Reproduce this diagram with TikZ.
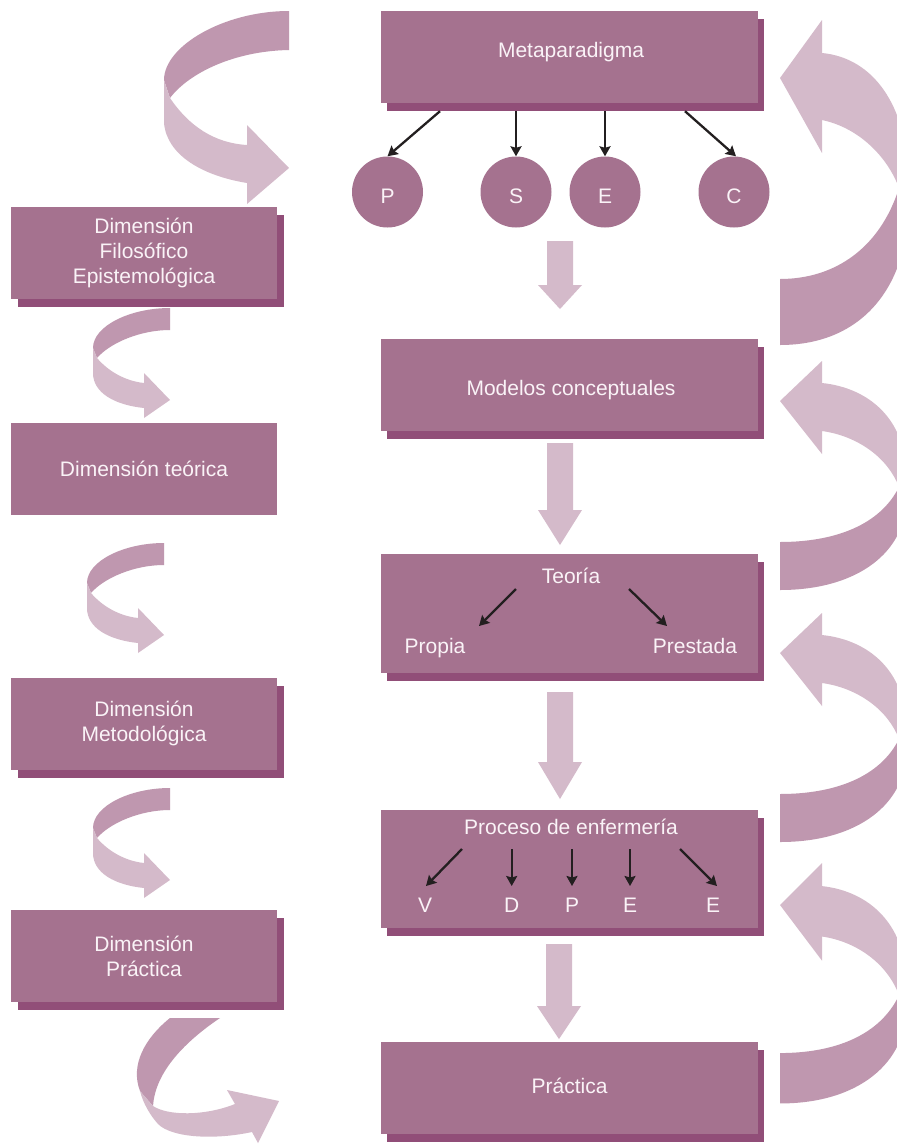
\documentclass[tikz,border=0pt]{standalone}
\usepackage{fontspec}
\setmainfont{Liberation Sans}
\usetikzlibrary{shadows,calc,arrows.meta}
\definecolor{boxcol}{HTML}{A5728F}
\definecolor{shadowcol}{HTML}{914E78}
\definecolor{literib}{HTML}{D4BACA}
\definecolor{darkrib}{HTML}{BF97AF}
\definecolor{txtcol}{HTML}{FAF3F7}
\definecolor{blkcol}{HTML}{231F20}
\newcommand\fatdown[4]{\fill[literib] ({#1-13},#2) -- ({#1+13},#2) -- ({#1+13},#3) -- ({#1+22},#3) -- (#1,#4) -- ({#1-22},#3) -- ({#1-13},#3) -- cycle;}
\newcommand\rightribA{%
  \fill[literib] (42,-58) -- (0,0) -- (42,75) -- (42,42) .. controls (80,50) and (108,80) .. (119,110) -- (128,128) -- (128,95) .. controls (126,30) and (95,-20) .. (42,-25) -- cycle;
  \fill[darkrib] (119,110) .. controls (100,170) and (55,201) .. (0,201) -- (0,267) .. controls (85,267) and (128,205) .. (128,128) -- cycle;}
\newcommand\rightribB{%
  \fill[literib] (42,-40) -- (0,0) -- (42,53) -- (42,30) .. controls (78,35) and (108,57) .. (119,86) -- (126,99) -- (126,69) .. controls (124,19) and (90,-13) .. (42,-18) -- cycle;
  \fill[darkrib] (119,86) .. controls (100,124) and (55,141) .. (0,141) -- (0,189) .. controls (80,189) and (126,149) .. (126,99) -- cycle;}
\newcommand\leftribB{%
  \fill[darkrib] (0,0) .. controls (-40,0) and (-77,18) .. (-77,40) -- (-73,50) .. controls (-60,35) and (-30,22) .. (0,22) -- cycle;
  \fill[literib] (-73,50) .. controls (-62,63) and (-45,73) .. (-26,75) -- (-26,65) -- (0,92) -- (-26,110) -- (-26,100) .. controls (-55,97) and (-77,85) .. (-77,65) -- (-77,40) -- cycle;}
\begin{document}
\begin{tikzpicture}[x=1pt,y=-1pt,
  txt/.style={text=txtcol, inner sep=0pt, font=\fontsize{21}{25}\selectfont},
  box/.style={txt, rectangle, fill=boxcol, align=center},
  cbox/.style={box, minimum width=377pt, minimum height=92pt,
    drop shadow={shadow xshift=6pt, shadow yshift=-8pt, fill=shadowcol, opacity=1}},
  lbox/.style={box, minimum width=266pt, minimum height=92pt},
  lshbox/.style={lbox, drop shadow={shadow xshift=7pt, shadow yshift=-8pt, fill=shadowcol, opacity=1}},
  circ/.style={txt, circle, fill=boxcol, minimum size=71pt, text height=22pt, text depth=0pt},
  lbl/.style={txt, anchor=base},
  blk/.style={draw=blkcol, line width=2.3pt, -{Stealth[length=10pt,width=11pt,inset=1.5pt]}}
]
\clip (0,0) rectangle (897,1144);
\fill[white] (0,0) rectangle (897,1144);

% left curved arrows
\begin{scope}[shift={(289,11)}]
  \fill[darkrib] (0,0) .. controls (-65,0) and (-125,35) .. (-125,69) -- (-119,87) .. controls (-100,62) and (-55,40) .. (0,39) -- cycle;
  \fill[literib] (-119,87) .. controls (-100,115) and (-75,132) .. (-42,134) -- (-42,114) -- (0,157) -- (-42,193) -- (-42,172) .. controls (-85,165) and (-122,145) .. (-125,112) -- (-125,69) -- cycle;
\end{scope}
\begin{scope}[shift={(170,308)}]\leftribB\end{scope}
\begin{scope}[shift={(164,543)}]\leftribB\end{scope}
\begin{scope}[shift={(170,788)}]\leftribB\end{scope}
\fill[darkrib] (170,1018) -- (220,1018) .. controls (180,1045) and (155,1075) .. (153,1106) -- (140,1091) .. controls (130,1065) and (145,1038) .. (170,1018) -- cycle;
\fill[literib] (140,1091) -- (153,1106) .. controls (168,1116) and (205,1116) .. (235,1104) -- (227,1090) -- (279,1101) -- (258,1143) -- (252,1132) .. controls (215,1140) and (172,1138) .. (158,1124) .. controls (150,1115) and (143,1103) .. (140,1091) -- cycle;

% right curved arrows
\begin{scope}[shift={(780,78)}]\rightribA\end{scope}
\begin{scope}[shift={(780,401)}]\rightribB\end{scope}
\begin{scope}[shift={(780,653)}]\rightribB\end{scope}
\begin{scope}[shift={(780,905)},yscale=1.05]\rightribB\end{scope}

% straight down arrows
\fatdown{560}{241}{285}{309}
\fatdown{560}{443}{510}{545}
\fatdown{560}{692}{762}{799}
\fatdown{559}{944}{1006}{1039}

% left boxes
\node[lshbox] (dfe) at (144,253) {Dimensión\\Filosófico\\Epistemológica};
\node[lbox] (dt) at (144,469) {Dimensión teórica};
\node[lshbox] (dm) at (144,723.5) {Dimensión\\Metodológica};
\node[lshbox] (dp) at (144,956) {Dimensión\\Práctica};

% central boxes
\node[cbox] (meta) at (569.5,57) {};
\node[lbl] (metat) at (571,57) {Metaparadigma};
\node[circ] (p) at (387.5,192) {P};
\node[circ] (s) at (516,192) {S};
\node[circ] (e) at (605,192) {E};
\node[circ] (c) at (734,192) {C};
\draw[blk] ($(meta.south)+(-129.5,8)$) -- (p.north);
\draw[blk] (s.north |- meta.south) ++(0,8) coordinate (s0) (s0) -- (s.north);
\draw[blk] (e.north |- meta.south) ++(0,8) coordinate (e0) (e0) -- (e.north);
\draw[blk] ($(meta.south)+(115.5,8)$) -- ($(c.north)+(2,0)$);

\node[cbox] (mod) at (569.5,385) {};
\node[lbl] (modt) at (571,395) {Modelos conceptuales};

\node[cbox, minimum height=119pt] (teo) at (569.5,613.5) {};
\node[lbl] (teot) at (571,583) {Teoría};
\node[lbl] (prop) at (435,653) {Propia};
\node[lbl] (pres) at (695,653) {Prestada};
\draw[blk] ($(teot.base)+(-55,6)$) -- ($(prop.base)+(44,-27)$);
\draw[blk] ($(teot.base)+(58,6)$) -- ($(pres.base)+(-28,-27)$);

\node[cbox, minimum height=118pt] (proc) at (569.5,869) {};
\node[lbl] (proct) at (571,834) {Proceso de enfermería};
\node[lbl] (lv) at (425,912) {V};
\node[lbl] (ld) at (511.7,912) {D};
\node[lbl] (lp) at (572,912) {P};
\node[lbl] (le) at (630,912) {E};
\node[lbl] (lee) at (713,912) {E};
\draw[blk] ($(lv.base)+(37,-63)$) -- ($(lv.base)+(1,-26)$);
\draw[blk] ($(ld.base)+(0,-63)$) -- ($(ld.base)+(0,-26)$);
\draw[blk] ($(lp.base)+(0,-63)$) -- ($(lp.base)+(0,-26)$);
\draw[blk] ($(le.base)+(0,-63)$) -- ($(le.base)+(0,-26)$);
\draw[blk] ($(lee.base)+(-33,-63)$) -- ($(lee.base)+(4,-26)$);

\node[cbox] (prac) at (569.5,1088) {};
\node[lbl] (pract) at (569.5,1093) {Práctica};
\end{tikzpicture}
\end{document}
